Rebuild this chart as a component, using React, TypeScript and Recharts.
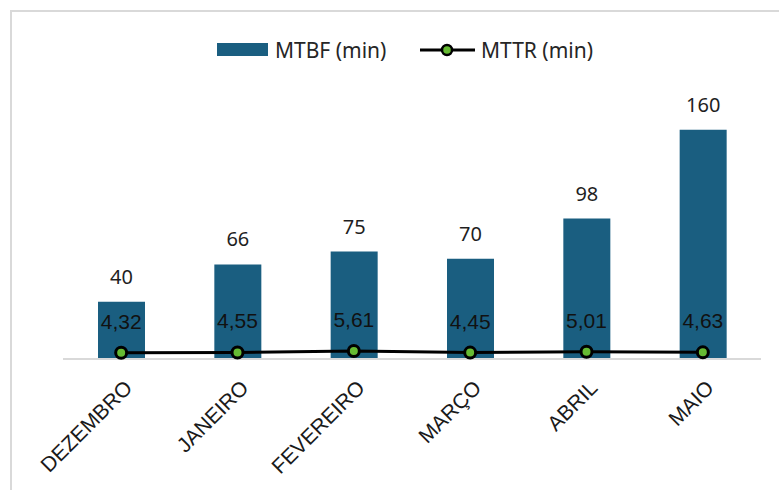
import React from "react";
import { ComposedChart, Bar, Line, XAxis, YAxis, LabelList, Legend } from "recharts";

const months = ["DEZEMBRO", "JANEIRO", "FEVEREIRO", "MARÇO", "ABRIL", "MAIO"];
const mtbf = [40, 66, 75, 70, 98, 160];
const mttr = [4.32, 4.55, 5.61, 4.45, 5.01, 4.63];

const data = months.map((m, i) => ({ month: m, mtbf: mtbf[i], mttr: mttr[i] }));

const BAR_COLOR = "#1a5e80";
const DOT_COLOR = "#66bb33";

const fmt = (v: any) => String(v).replace(".", ",");

const Tick = (props: any) => {
  const { x, y, payload } = props;
  return (
    <g transform={`translate(${x + 7},${y + 17}) rotate(-45)`}>
      <text x={0} y={0} textAnchor="end" dominantBaseline="central" fontFamily="'Liberation Sans', Arial, sans-serif" fontSize={21} fill="#1a1a1a">
        {payload.value}
      </text>
    </g>
  );
};

const LegendContent = () => (
  <svg width={779} height={30}>
    <rect x={217} y={8} width={51} height={13} fill={BAR_COLOR} />
    <text x={275} y={15} dominantBaseline="central" fontFamily="'Noto Sans', sans-serif" fontSize={21} fill="#262626">MTBF (min)</text>
    <line x1={420} y1={15} x2={475} y2={15} stroke="#000" strokeWidth={3} />
    <circle cx={447} cy={15} r={5} fill={DOT_COLOR} stroke="#000" strokeWidth={2.5} />
    <text x={481} y={15} dominantBaseline="central" fontFamily="'Noto Sans', sans-serif" fontSize={21} fill="#262626">MTTR (min)</text>
  </svg>
);

export default function App() {
  return (
    <div style={{ position: "absolute", left: 0, top: 0, width: 779, height: 490, background: "#fff", overflow: "hidden" }}>
      <div style={{ position: "absolute", left: 10, top: 10, width: 780, height: 490, borderLeft: "2px solid #d9d9d9", borderTop: "2px solid #d9d9d9" }} />
      <ComposedChart width={779} height={490} data={data} margin={{ top: 101, right: 18, bottom: 0, left: 63 }}>
        <XAxis
          dataKey="month"
          height={131}
          tick={<Tick />}
          tickLine={false}
          axisLine={{ stroke: "#d9d9d9", strokeWidth: 2 }}
          interval={0}
        />
        <YAxis hide domain={[0, 180]} />
        <Legend
          verticalAlign="middle"
          layout="horizontal"
          content={<LegendContent />}
          wrapperStyle={{ top: 35, left: 0, width: 779, height: 30 }}
        />
        <Bar dataKey="mtbf" fill={BAR_COLOR} barSize={47} isAnimationActive={false}>
          <LabelList dataKey="mtbf" position="top" offset={18} fontFamily="'Noto Sans', sans-serif" fontSize={20} fill="#1f1f1f" stroke="none" />
        </Bar>
        <Line
          dataKey="mttr"
          stroke="#000"
          strokeWidth={3}
          dot={{ r: 5.5, fill: DOT_COLOR, stroke: "#000", strokeWidth: 3 }}
          isAnimationActive={false}
        >
          <LabelList dataKey="mttr" position="top" offset={24} formatter={fmt} fontFamily="'Liberation Sans', Arial, sans-serif" fontSize={21} fill="#111" stroke="none" />
        </Line>
      </ComposedChart>
    </div>
  );
}
